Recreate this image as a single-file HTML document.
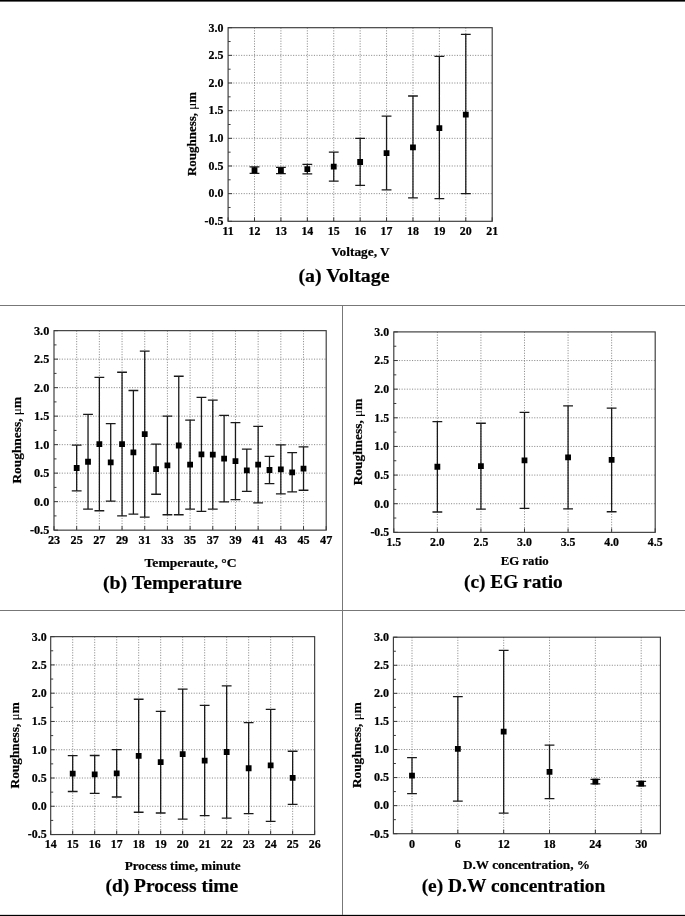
<!DOCTYPE html>
<html lang="en">
<head>
<meta charset="utf-8">
<title>Roughness charts</title>
<style>
html,body{margin:0;padding:0;background:#fff;}
body{width:685px;height:916px;overflow:hidden;}
main,figure{margin:0;padding:0;display:block;}
svg{display:block;position:absolute;left:0;top:0;}
text{font-family:'Liberation Serif', 'DejaVu Serif', serif;font-weight:bold;fill:#000;stroke:#000;stroke-width:0.22px;}
.tk text{font-size:var(--tk);}
.al{font-size:var(--al);}
.mu{font-weight:normal;stroke:none;}
.cap{font-size:19.8px;stroke:#000;stroke-width:0.2px;}
</style>
</head>
<body>
<main>
<figure>
<svg role="img" aria-label="Surface roughness versus process parameters" width="685" height="916" viewBox="0 0 685 916">
<rect x="0" y="0" width="685" height="916" fill="#fff"/>
<rect x="0" y="0" width="685" height="1.6" fill="#000"/>
<rect x="0" y="914.85" width="685" height="1.15" fill="#000"/>
<rect x="0" y="305" width="685" height="1" fill="#777"/>
<rect x="0" y="610" width="685" height="1" fill="#777"/>
<rect x="342" y="305" width="1" height="610" fill="#777"/>
<g id="chart-a">
<g style="--tk:11.9px;--al:13.1px"><path d="M254.51 27.7V221.3M280.92 27.7V221.3M307.33 27.7V221.3M333.74 27.7V221.3M360.15 27.7V221.3M386.56 27.7V221.3M412.97 27.7V221.3M439.38 27.7V221.3M465.79 27.7V221.3M228.1 193.64H492.2M228.1 165.99H492.2M228.1 138.33H492.2M228.1 110.67H492.2M228.1 83.01H492.2M228.1 55.36H492.2" stroke="#707070" stroke-width="0.8" stroke-dasharray="1.1 1.5" fill="none"/>
<path d="M228.1 221.3v-4M254.51 221.3v-4M280.92 221.3v-4M307.33 221.3v-4M333.74 221.3v-4M360.15 221.3v-4M386.56 221.3v-4M412.97 221.3v-4M439.38 221.3v-4M465.79 221.3v-4M492.2 221.3v-4M228.1 221.3h4M228.1 193.64h4M228.1 165.99h4M228.1 138.33h4M228.1 110.67h4M228.1 83.01h4M228.1 55.36h4M228.1 27.7h4M228.1 207.47h2.5M228.1 179.81h2.5M228.1 152.16h2.5M228.1 124.5h2.5M228.1 96.84h2.5M228.1 69.19h2.5M228.1 41.53h2.5" stroke="#3a3a3a" stroke-width="1" fill="none"/>
<rect x="228.1" y="27.7" width="264.1" height="193.6" fill="none" stroke="#3a3a3a" stroke-width="1.15"/>
<path d="M254.51 166.93V173.4M249.61 166.93h9.8M249.61 173.4h9.8M280.92 167.42V173.62M276.02 167.42h9.8M276.02 173.62h9.8M307.33 164.33V173.9M302.43 164.33h9.8M302.43 173.9h9.8M333.74 152.16V181.2M328.84 152.16h9.8M328.84 181.2h9.8M360.15 138.33V185.4M355.25 138.33h9.8M355.25 185.4h9.8M386.56 116.2V189.83M381.66 116.2h9.8M381.66 189.83h9.8M412.97 96.01V197.79M408.07 96.01h9.8M408.07 197.79h9.8M439.38 56.46V198.62M434.48 56.46h9.8M434.48 198.62h9.8M465.79 34.34V193.64M460.89 34.34h9.8M460.89 193.64h9.8" stroke="#1a1a1a" stroke-width="1.3" fill="none"/>
<path d="M251.61 167.29h5.8v5.8h-5.8zM278.02 167.79h5.8v5.8h-5.8zM304.43 166.13h5.8v5.8h-5.8zM330.84 163.8h5.8v5.8h-5.8zM357.25 159.1h5.8v5.8h-5.8zM383.66 150.2h5.8v5.8h-5.8zM410.07 144.56h5.8v5.8h-5.8zM436.48 125.2h5.8v5.8h-5.8zM462.89 111.64h5.8v5.8h-5.8z" fill="#000"/>
<g class="tk" text-anchor="middle"><text transform="translate(228.1 234.9) scale(1 1)">11</text><text transform="translate(254.51 234.9) scale(1 1)">12</text><text transform="translate(280.92 234.9) scale(1 1)">13</text><text transform="translate(307.33 234.9) scale(1 1)">14</text><text transform="translate(333.74 234.9) scale(1 1)">15</text><text transform="translate(360.15 234.9) scale(1 1)">16</text><text transform="translate(386.56 234.9) scale(1 1)">17</text><text transform="translate(412.97 234.9) scale(1 1)">18</text><text transform="translate(439.38 234.9) scale(1 1)">19</text><text transform="translate(465.79 234.9) scale(1 1)">20</text><text transform="translate(492.2 234.9) scale(1 1)">21</text></g>
<g class="tk" text-anchor="end"><text transform="translate(223.4 225.1) scale(1 1)">-0.5</text><text transform="translate(223.4 197.44) scale(1 1)">0.0</text><text transform="translate(223.4 169.79) scale(1 1)">0.5</text><text transform="translate(223.4 142.13) scale(1 1)">1.0</text><text transform="translate(223.4 114.47) scale(1 1)">1.5</text><text transform="translate(223.4 86.81) scale(1 1)">2.0</text><text transform="translate(223.4 59.16) scale(1 1)">2.5</text><text transform="translate(223.4 31.5) scale(1 1)">3.0</text></g>
<text class="al" style="font-size:13.1px" textLength="58.5" lengthAdjust="spacingAndGlyphs" x="331.2" y="256">Voltage, V</text>
<text class="al" style="font-size:13.09px" textLength="84.2" lengthAdjust="spacingAndGlyphs" x="-42.1" y="0" transform="translate(195.9 134) rotate(-90)">Roughness, <tspan class="mu">μ</tspan>m</text>
<text class="cap" textLength="91.1" lengthAdjust="spacingAndGlyphs" x="298.4" y="282">(a) Voltage</text></g>
</g>
<g id="chart-b">
<g style="--tk:12.26px;--al:13.5px"><path d="M76.68 330.65V530.15M99.37 330.65V530.15M122.05 330.65V530.15M144.73 330.65V530.15M167.42 330.65V530.15M190.1 330.65V530.15M212.78 330.65V530.15M235.47 330.65V530.15M258.15 330.65V530.15M280.83 330.65V530.15M303.52 330.65V530.15M54 501.65H326.2M54 473.15H326.2M54 444.65H326.2M54 416.15H326.2M54 387.65H326.2M54 359.15H326.2" stroke="#707070" stroke-width="0.8" stroke-dasharray="1.1 1.5" fill="none"/>
<path d="M54 530.15v-4M76.68 530.15v-4M99.37 530.15v-4M122.05 530.15v-4M144.73 530.15v-4M167.42 530.15v-4M190.1 530.15v-4M212.78 530.15v-4M235.47 530.15v-4M258.15 530.15v-4M280.83 530.15v-4M303.52 530.15v-4M326.2 530.15v-4M54 530.15h4M54 501.65h4M54 473.15h4M54 444.65h4M54 416.15h4M54 387.65h4M54 359.15h4M54 330.65h4M54 515.9h2.5M54 487.4h2.5M54 458.9h2.5M54 430.4h2.5M54 401.9h2.5M54 373.4h2.5M54 344.9h2.5" stroke="#3a3a3a" stroke-width="1" fill="none"/>
<rect x="54" y="330.65" width="272.2" height="199.5" fill="none" stroke="#3a3a3a" stroke-width="1.15"/>
<path d="M76.68 445.22V490.82M71.78 445.22h9.8M71.78 490.82h9.8M88.03 414.44V509.06M83.12 414.44h9.8M83.12 509.06h9.8M99.37 377.39V510.77M94.47 377.39h9.8M94.47 510.77h9.8M110.71 423.56V501.08M105.81 423.56h9.8M105.81 501.08h9.8M122.05 372.26V515.9M117.15 372.26h9.8M117.15 515.9h9.8M133.39 390.5V514.19M128.49 390.5h9.8M128.49 514.19h9.8M144.73 351.17V517.04M139.83 351.17h9.8M139.83 517.04h9.8M156.07 444.08V494.24M151.17 444.08h9.8M151.17 494.24h9.8M167.42 416.15V514.76M162.52 416.15h9.8M162.52 514.76h9.8M178.76 376.25V514.76M173.86 376.25h9.8M173.86 514.76h9.8M190.1 420.14V509.06M185.2 420.14h9.8M185.2 509.06h9.8M201.44 397.34V511.34M196.54 397.34h9.8M196.54 511.34h9.8M212.78 400.19V509.06M207.88 400.19h9.8M207.88 509.06h9.8M224.12 415.29V501.93M219.22 415.29h9.8M219.22 501.93h9.8M235.47 422.7V499.65M230.57 422.7h9.8M230.57 499.65h9.8M246.81 449.21V491.39M241.91 449.21h9.8M241.91 491.39h9.8M258.15 426.41V502.79M253.25 426.41h9.8M253.25 502.79h9.8M269.49 456.33V483.69M264.59 456.33h9.8M264.59 483.69h9.8M280.83 444.93V493.95M275.93 444.93h9.8M275.93 493.95h9.8M292.17 452.63V491.96M287.27 452.63h9.8M287.27 491.96h9.8M303.52 446.93V490.25M298.62 446.93h9.8M298.62 490.25h9.8" stroke="#1a1a1a" stroke-width="1.3" fill="none"/>
<path d="M73.78 465.12h5.8v5.8h-5.8zM85.12 458.85h5.8v5.8h-5.8zM96.47 441.18h5.8v5.8h-5.8zM107.81 459.42h5.8v5.8h-5.8zM119.15 441.18h5.8v5.8h-5.8zM130.49 449.44h5.8v5.8h-5.8zM141.83 431.2h5.8v5.8h-5.8zM153.17 466.26h5.8v5.8h-5.8zM164.52 462.56h5.8v5.8h-5.8zM175.86 442.61h5.8v5.8h-5.8zM187.2 461.7h5.8v5.8h-5.8zM198.54 451.44h5.8v5.8h-5.8zM209.88 451.72h5.8v5.8h-5.8zM221.22 455.72h5.8v5.8h-5.8zM232.57 458.28h5.8v5.8h-5.8zM243.91 467.4h5.8v5.8h-5.8zM255.25 461.7h5.8v5.8h-5.8zM266.59 467.12h5.8v5.8h-5.8zM277.93 466.55h5.8v5.8h-5.8zM289.27 469.39h5.8v5.8h-5.8zM300.62 465.69h5.8v5.8h-5.8z" fill="#000"/>
<g class="tk" text-anchor="middle"><text transform="translate(54 544.16) scale(1 1)">23</text><text transform="translate(76.68 544.16) scale(1 1)">25</text><text transform="translate(99.37 544.16) scale(1 1)">27</text><text transform="translate(122.05 544.16) scale(1 1)">29</text><text transform="translate(144.73 544.16) scale(1 1)">31</text><text transform="translate(167.42 544.16) scale(1 1)">33</text><text transform="translate(190.1 544.16) scale(1 1)">35</text><text transform="translate(212.78 544.16) scale(1 1)">37</text><text transform="translate(235.47 544.16) scale(1 1)">39</text><text transform="translate(258.15 544.16) scale(1 1)">41</text><text transform="translate(280.83 544.16) scale(1 1)">43</text><text transform="translate(303.52 544.16) scale(1 1)">45</text><text transform="translate(326.2 544.16) scale(1 1)">47</text></g>
<g class="tk" text-anchor="end"><text transform="translate(49.3 534.07) scale(1 1)">-0.5</text><text transform="translate(49.3 505.57) scale(1 1)">0.0</text><text transform="translate(49.3 477.07) scale(1 1)">0.5</text><text transform="translate(49.3 448.57) scale(1 1)">1.0</text><text transform="translate(49.3 420.07) scale(1 1)">1.5</text><text transform="translate(49.3 391.57) scale(1 1)">2.0</text><text transform="translate(49.3 363.07) scale(1 1)">2.5</text><text transform="translate(49.3 334.57) scale(1 1)">3.0</text></g>
<text class="al" style="font-size:13.4px" textLength="92" lengthAdjust="spacingAndGlyphs" x="144.5" y="566.7">Temperaute, °C</text>
<text class="al" style="font-size:13.49px" textLength="86.8" lengthAdjust="spacingAndGlyphs" x="-43.4" y="0" transform="translate(21.3 440.19) rotate(-90)">Roughness, <tspan class="mu">μ</tspan>m</text>
<text class="cap" textLength="139" lengthAdjust="spacingAndGlyphs" x="102.9" y="589">(b) Temperature</text></g>
</g>
<g id="chart-c">
<g style="--tk:12.32px;--al:13.56px"><path d="M437.37 331.9V532.35M480.93 331.9V532.35M524.5 331.9V532.35M568.07 331.9V532.35M611.63 331.9V532.35M393.8 503.71H655.2M393.8 475.08H655.2M393.8 446.44H655.2M393.8 417.81H655.2M393.8 389.17H655.2M393.8 360.54H655.2" stroke="#707070" stroke-width="0.8" stroke-dasharray="1.1 1.5" fill="none"/>
<path d="M393.8 532.35v-4M437.37 532.35v-4M480.93 532.35v-4M524.5 532.35v-4M568.07 532.35v-4M611.63 532.35v-4M655.2 532.35v-4M393.8 532.35h4M393.8 503.71h4M393.8 475.08h4M393.8 446.44h4M393.8 417.81h4M393.8 389.17h4M393.8 360.54h4M393.8 331.9h4M393.8 518.03h2.5M393.8 489.4h2.5M393.8 460.76h2.5M393.8 432.12h2.5M393.8 403.49h2.5M393.8 374.85h2.5M393.8 346.22h2.5" stroke="#3a3a3a" stroke-width="1" fill="none"/>
<rect x="393.8" y="331.9" width="261.4" height="200.45" fill="none" stroke="#3a3a3a" stroke-width="1.15"/>
<path d="M437.37 421.53V512.02M432.47 421.53h9.8M432.47 512.02h9.8M480.93 423.25V509.16M476.03 423.25h9.8M476.03 509.16h9.8M524.5 412.42V508.3M519.6 412.42h9.8M519.6 508.3h9.8M568.07 405.78V508.87M563.17 405.78h9.8M563.17 508.87h9.8M611.63 408.07V511.73M606.73 408.07h9.8M606.73 511.73h9.8" stroke="#1a1a1a" stroke-width="1.3" fill="none"/>
<path d="M434.47 463.87h5.8v5.8h-5.8zM478.03 463.3h5.8v5.8h-5.8zM521.6 457.46h5.8v5.8h-5.8zM565.17 454.42h5.8v5.8h-5.8zM608.73 457h5.8v5.8h-5.8z" fill="#000"/>
<g class="tk" text-anchor="middle"><text transform="translate(393.8 546.43) scale(0.96 1)">1.5</text><text transform="translate(437.37 546.43) scale(0.96 1)">2.0</text><text transform="translate(480.93 546.43) scale(0.96 1)">2.5</text><text transform="translate(524.5 546.43) scale(0.96 1)">3.0</text><text transform="translate(568.07 546.43) scale(0.96 1)">3.5</text><text transform="translate(611.63 546.43) scale(0.96 1)">4.0</text><text transform="translate(655.2 546.43) scale(0.96 1)">4.5</text></g>
<g class="tk" text-anchor="end"><text transform="translate(389.1 536.28) scale(0.96 1)">-0.5</text><text transform="translate(389.1 507.65) scale(0.96 1)">0.0</text><text transform="translate(389.1 479.01) scale(0.96 1)">0.5</text><text transform="translate(389.1 450.38) scale(0.96 1)">1.0</text><text transform="translate(389.1 421.74) scale(0.96 1)">1.5</text><text transform="translate(389.1 393.11) scale(0.96 1)">2.0</text><text transform="translate(389.1 364.47) scale(0.96 1)">2.5</text><text transform="translate(389.1 335.83) scale(0.96 1)">3.0</text></g>
<text class="al" style="font-size:12.9px" textLength="47.9" lengthAdjust="spacingAndGlyphs" x="500.75" y="565">EG ratio</text>
<text class="al" style="font-size:12.96px" textLength="86.8" lengthAdjust="spacingAndGlyphs" x="-43.4" y="0" transform="translate(362 441.96) rotate(-90)">Roughness, <tspan class="mu">μ</tspan>m</text>
<text class="cap" textLength="98.8" lengthAdjust="spacingAndGlyphs" x="464" y="587.5">(c) EG ratio</text></g>
</g>
<g id="chart-d">
<g style="--tk:12.16px;--al:13.39px"><path d="M72.7 636.65V834.55M94.69 636.65V834.55M116.69 636.65V834.55M138.68 636.65V834.55M160.68 636.65V834.55M182.68 636.65V834.55M204.67 636.65V834.55M226.67 636.65V834.55M248.66 636.65V834.55M270.66 636.65V834.55M292.65 636.65V834.55M50.7 806.28H314.65M50.7 778.01H314.65M50.7 749.74H314.65M50.7 721.46H314.65M50.7 693.19H314.65M50.7 664.92H314.65" stroke="#707070" stroke-width="0.8" stroke-dasharray="1.1 1.5" fill="none"/>
<path d="M50.7 834.55v-4M72.7 834.55v-4M94.69 834.55v-4M116.69 834.55v-4M138.68 834.55v-4M160.68 834.55v-4M182.68 834.55v-4M204.67 834.55v-4M226.67 834.55v-4M248.66 834.55v-4M270.66 834.55v-4M292.65 834.55v-4M314.65 834.55v-4M50.7 834.55h4M50.7 806.28h4M50.7 778.01h4M50.7 749.74h4M50.7 721.46h4M50.7 693.19h4M50.7 664.92h4M50.7 636.65h4M50.7 820.41h2.5M50.7 792.14h2.5M50.7 763.87h2.5M50.7 735.6h2.5M50.7 707.33h2.5M50.7 679.06h2.5M50.7 650.79h2.5" stroke="#3a3a3a" stroke-width="1" fill="none"/>
<rect x="50.7" y="636.65" width="263.95" height="197.9" fill="none" stroke="#3a3a3a" stroke-width="1.15"/>
<path d="M72.7 755.62V791.52M67.8 755.62h9.8M67.8 791.52h9.8M94.69 755.5V793.33M89.79 755.5h9.8M89.79 793.33h9.8M116.69 749.57V797.01M111.79 749.57h9.8M111.79 797.01h9.8M138.68 699.24V812.27M133.78 699.24h9.8M133.78 812.27h9.8M160.68 711.29V813.01M155.78 711.29h9.8M155.78 813.01h9.8M182.68 689.07V819.06M177.78 689.07h9.8M177.78 819.06h9.8M204.67 705.46V815.66M199.77 705.46h9.8M199.77 815.66h9.8M226.67 685.84V818.1M221.77 685.84h9.8M221.77 818.1h9.8M248.66 722.71V813.69M243.76 722.71h9.8M243.76 813.69h9.8M270.66 709.42V821.32M265.76 709.42h9.8M265.76 821.32h9.8M292.65 751.26V804.36M287.75 751.26h9.8M287.75 804.36h9.8" stroke="#1a1a1a" stroke-width="1.3" fill="none"/>
<path d="M69.8 770.7h5.8v5.8h-5.8zM91.79 771.54h5.8v5.8h-5.8zM113.79 770.41h5.8v5.8h-5.8zM135.78 752.89h5.8v5.8h-5.8zM157.78 759.28h5.8v5.8h-5.8zM179.78 751.19h5.8v5.8h-5.8zM201.77 757.69h5.8v5.8h-5.8zM223.77 749.1h5.8v5.8h-5.8zM245.76 765.33h5.8v5.8h-5.8zM267.76 762.5h5.8v5.8h-5.8zM289.75 774.94h5.8v5.8h-5.8z" fill="#000"/>
<g class="tk" text-anchor="middle"><text transform="translate(50.7 848.45) scale(0.98 1)">14</text><text transform="translate(72.7 848.45) scale(0.98 1)">15</text><text transform="translate(94.69 848.45) scale(0.98 1)">16</text><text transform="translate(116.69 848.45) scale(0.98 1)">17</text><text transform="translate(138.68 848.45) scale(0.98 1)">18</text><text transform="translate(160.68 848.45) scale(0.98 1)">19</text><text transform="translate(182.68 848.45) scale(0.98 1)">20</text><text transform="translate(204.67 848.45) scale(0.98 1)">21</text><text transform="translate(226.67 848.45) scale(0.98 1)">22</text><text transform="translate(248.66 848.45) scale(0.98 1)">23</text><text transform="translate(270.66 848.45) scale(0.98 1)">24</text><text transform="translate(292.65 848.45) scale(0.98 1)">25</text><text transform="translate(314.65 848.45) scale(0.98 1)">26</text></g>
<g class="tk" text-anchor="end"><text transform="translate(46.6 838.43) scale(0.98 1)">-0.5</text><text transform="translate(46.6 810.16) scale(0.98 1)">0.0</text><text transform="translate(46.6 781.89) scale(0.98 1)">0.5</text><text transform="translate(46.6 753.62) scale(0.98 1)">1.0</text><text transform="translate(46.6 725.35) scale(0.98 1)">1.5</text><text transform="translate(46.6 697.08) scale(0.98 1)">2.0</text><text transform="translate(46.6 668.81) scale(0.98 1)">2.5</text><text transform="translate(46.6 640.53) scale(0.98 1)">3.0</text></g>
<text class="al" style="font-size:13.2px" textLength="115.9" lengthAdjust="spacingAndGlyphs" x="124.75" y="869.8">Process time, minute</text>
<text class="al" style="font-size:13.08px" textLength="86.2" lengthAdjust="spacingAndGlyphs" x="-43.1" y="0" transform="translate(18.6 745.31) rotate(-90)">Roughness, <tspan class="mu">μ</tspan>m</text>
<text class="cap" textLength="132.8" lengthAdjust="spacingAndGlyphs" x="105.4" y="891.6">(d) Process time</text></g>
</g>
<g id="chart-e">
<g style="--tk:12.08px;--al:13.3px"><path d="M412 637.2V833.7M457.84 637.2V833.7M503.68 637.2V833.7M549.52 637.2V833.7M595.36 637.2V833.7M641.2 637.2V833.7M393.4 805.63H660.4M393.4 777.56H660.4M393.4 749.49H660.4M393.4 721.41H660.4M393.4 693.34H660.4M393.4 665.27H660.4" stroke="#707070" stroke-width="0.8" stroke-dasharray="1.1 1.5" fill="none"/>
<path d="M412 833.7v-4M457.84 833.7v-4M503.68 833.7v-4M549.52 833.7v-4M595.36 833.7v-4M641.2 833.7v-4M393.4 833.7h4M393.4 805.63h4M393.4 777.56h4M393.4 749.49h4M393.4 721.41h4M393.4 693.34h4M393.4 665.27h4M393.4 637.2h4M393.4 819.66h2.5M393.4 791.59h2.5M393.4 763.52h2.5M393.4 735.45h2.5M393.4 707.38h2.5M393.4 679.31h2.5M393.4 651.24h2.5" stroke="#3a3a3a" stroke-width="1" fill="none"/>
<rect x="393.4" y="637.2" width="267" height="196.5" fill="none" stroke="#3a3a3a" stroke-width="1.15"/>
<path d="M412 757.63V793.56M407.1 757.63h9.8M407.1 793.56h9.8M457.84 696.71V801.14M452.94 696.71h9.8M452.94 801.14h9.8M503.68 650.28V813.1M498.78 650.28h9.8M498.78 813.1h9.8M549.52 745.16V798.72M544.62 745.16h9.8M544.62 798.72h9.8M595.36 779.35V783.85M590.46 779.35h9.8M590.46 783.85h9.8M641.2 781.37V785.87M636.3 781.37h9.8M636.3 785.87h9.8" stroke="#1a1a1a" stroke-width="1.3" fill="none"/>
<path d="M409.1 772.69h5.8v5.8h-5.8zM454.94 746.02h5.8v5.8h-5.8zM500.78 728.79h5.8v5.8h-5.8zM546.62 769.04h5.8v5.8h-5.8zM592.46 778.7h5.8v5.8h-5.8zM638.3 780.72h5.8v5.8h-5.8z" fill="#000"/>
<g class="tk" text-anchor="middle"><text transform="translate(412 847.5) scale(1 1)">0</text><text transform="translate(457.84 847.5) scale(1 1)">6</text><text transform="translate(503.68 847.5) scale(1 1)">12</text><text transform="translate(549.52 847.5) scale(1 1)">18</text><text transform="translate(595.36 847.5) scale(1 1)">24</text><text transform="translate(641.2 847.5) scale(1 1)">30</text></g>
<g class="tk" text-anchor="end"><text transform="translate(389 837.56) scale(1 1)">-0.5</text><text transform="translate(389 809.49) scale(1 1)">0.0</text><text transform="translate(389 781.41) scale(1 1)">0.5</text><text transform="translate(389 753.34) scale(1 1)">1.0</text><text transform="translate(389 725.27) scale(1 1)">1.5</text><text transform="translate(389 697.2) scale(1 1)">2.0</text><text transform="translate(389 669.13) scale(1 1)">2.5</text><text transform="translate(389 641.06) scale(1 1)">3.0</text></g>
<text class="al" style="font-size:13.2px" textLength="127" lengthAdjust="spacingAndGlyphs" x="463" y="869">D.W concentration, %</text>
<text class="al" style="font-size:13.23px" textLength="85.8" lengthAdjust="spacingAndGlyphs" x="-42.9" y="0" transform="translate(361.4 745.09) rotate(-90)">Roughness, <tspan class="mu">μ</tspan>m</text>
<text class="cap" textLength="183.7" lengthAdjust="spacingAndGlyphs" x="421.65" y="891.5">(e) D.W concentration</text></g>
</g>
</svg>
</figure>
</main>
</body>
</html>
